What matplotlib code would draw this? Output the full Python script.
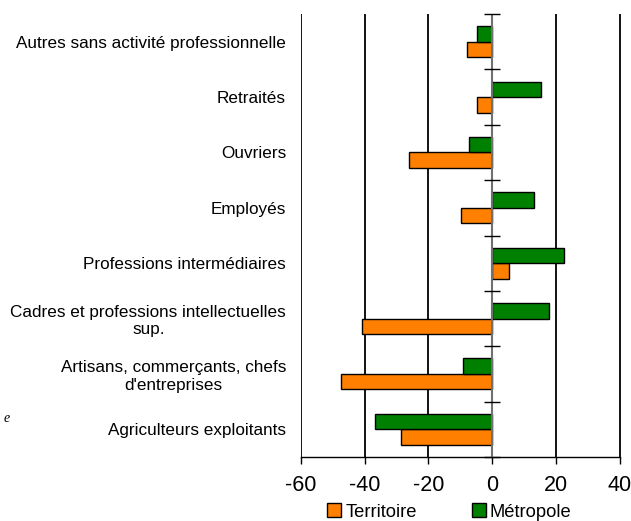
import matplotlib
matplotlib.use("Agg")
import matplotlib.pyplot as plt
import matplotlib.patches as mpatches
import numpy as np

categories = [
    "Agriculteurs exploitants",
    "Artisans, commerçants, chefs\nd'entreprises",
    "Cadres et professions intellectuelles\nsup.",
    "Professions intermédiaires",
    "Employés",
    "Ouvriers",
    "Retraités",
    "Autres sans activité professionnelle",
]
territoire = [-28.5, -47.3, -40.9, 5.3, -9.6, -26.0, -4.6, -8.0]
metropole = [-36.7, -9.1, 17.7, 22.4, 13.1, -7.4, 15.4, -4.6]
series_names = ["Territoire", "Métropole"]
xticks = [-60, -40, -20, 0, 20, 40]

orange = "#FF8000"
green = "#008000"
font = "Liberation Sans"

fig = plt.figure(figsize=(6.31, 5.21), dpi=100)
ax = fig.add_axes([300.7 / 631, 1 - 457 / 521, (622.3 - 300.7) / 631, (457 - 14) / 521])

y = np.arange(len(categories))
h = 0.28
ax.barh(y - h / 2, territoire, height=h, color=orange, edgecolor="black", linewidth=1, zorder=3)
ax.barh(y + h / 2, metropole, height=h, color=green, edgecolor="black", linewidth=1, zorder=3)

ax.set_xlim(-60, 40.8)
ax.set_ylim(-0.5, len(categories) - 0.5)

ax.set_xticks(xticks)
ax.grid(axis="x", color="black", linewidth=1.3, zorder=1)
ax.set_axisbelow(True)
ax.axvline(0, color="#707070", linewidth=1.5, zorder=4)

# category separators on the zero axis
bounds = np.arange(len(categories) + 1) - 0.5
ax.plot(np.zeros_like(bounds), bounds, linestyle="none", marker="_", markersize=11,
        markeredgewidth=1, color="black", zorder=5, clip_on=False)

ax.set_xticklabels([str(v) for v in xticks], fontsize=15.5, fontfamily=font)
ax.tick_params(axis="x", direction="out", length=5, width=1, pad=8)

ax.set_yticks(y)
ax.set_yticklabels(categories, fontsize=12.35, fontfamily=font, multialignment="center")
ax.tick_params(axis="y", length=0, pad=10.5)

for s in ["top", "right", "left"]:
    ax.spines[s].set_visible(False)
ax.spines["bottom"].set_linewidth(1)
ax.spines["bottom"].set_bounds(-60, 40)

handles = [
    mpatches.Patch(facecolor=orange, edgecolor="black", linewidth=1, label=series_names[0]),
    mpatches.Patch(facecolor=green, edgecolor="black", linewidth=1, label=series_names[1]),
]
fig.legend(handles=handles, loc="center", bbox_to_anchor=(0.712, 0.017), ncol=2, frameon=False,
           prop={"family": font, "size": 13.2}, handlelength=0.8, handleheight=0.8,
           handletextpad=0.2, columnspacing=3.0, borderaxespad=0)

fig.text(0.006, 1 - 418 / 521, "e", fontsize=10, style="italic", family="Liberation Serif",
         va="center")

fig.savefig("out.png", dpi=100)
